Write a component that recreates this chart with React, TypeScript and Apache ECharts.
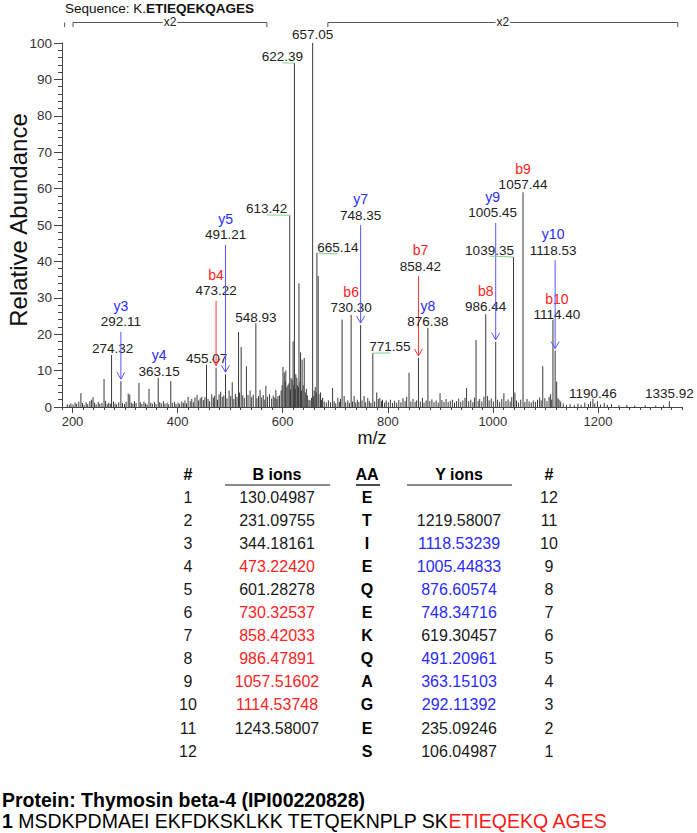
import React, { useEffect, useRef } from 'react';
import * as echarts from 'echarts';

const FONT = '"Liberation Sans", Arial, Helvetica, sans-serif';
const RED = '#ff2222';
const BLUE = '#2a2aff';

// ---------------- spectrum data ----------------
const majorPeaks: [number, number][] = [
  [216, 3.8], [239, 2.7], [260, 7.7], [274.32, 14.3], [292.11, 7.1], [306, 3.7], [309, 3.4],
  [326.5, 6.6], [345.6, 5.0], [363.15, 8.0], [387, 7.1], [420, 2.8], [437, 3.3], [446, 2.8],
  [455.07, 11.6], [465, 3.5], [473.22, 10.8], [482, 4.2], [491.21, 9.0], [498, 4.5], [504, 6.8],
  [516, 20.6], [521, 16.5], [531, 11.2], [538, 4.5], [548.93, 23.0], [557, 4.7], [568, 5.8],
  [575, 3.5], [587, 4.7], [591, 3.0], [600.6, 11.0], [603, 9.5], [606, 10.0], [610, 6.0],
  [613.42, 52.7], [616, 8.0], [619.8, 18.0], [622.39, 94.5], [625, 9.0], [628, 6.0], [631, 34.0],
  [634, 15.0], [637, 13.0], [641, 13.5], [645, 5.0], [650, 2.0], [657.05, 100], [660, 4.5],
  [665.14, 42.3], [667.6, 36.0], [672, 4.0], [676, 2.5], [695, 5.2], [705, 2.5], [713, 24.0],
  [717, 3.0], [730.3, 25.3], [736, 3.0], [748.35, 22.5], [755, 3.0], [762, 2.5], [771.55, 14.8],
  [779, 4.0], [785, 2.5], [790, 2.0], [840.5, 9.4], [858.42, 13.5], [876.38, 21.7], [899.5, 3.8],
  [950, 5.2], [968, 18.4], [986.44, 25.5], [990, 3.0], [1005.45, 17.9], [1021, 3.8],
  [1039.35, 41.2], [1042, 4.0], [1057.44, 59.0], [1095, 11.2], [1114.4, 24.0], [1118.53, 15.5],
  [1121.5, 7.0], [1126, 2.0], [1190.46, 2.3], [1335.92, 1.6],
];

const noisePeaks: [number, number][] = [
  [190, 0.8], [194, 0.6], [197, 1.0], [201, 0.7], [205, 1.2], [208, 0.9], [212, 1.5], [219, 1.1],
  [222, 0.6], [226, 1.3], [229, 0.8], [233, 1.6], [236, 2.0], [242, 1.2], [245, 0.7], [249, 1.4],
  [252, 0.9], [256, 1.1], [263, 1.7], [266, 0.8], [269, 1.2], [272, 0.9], [278, 1.5], [281, 1.0],
  [284, 0.7], [288, 1.3], [295, 1.1], [299, 0.8], [302, 1.4], [312, 1.2], [315, 0.9], [318, 1.6],
  [321, 1.1], [329, 1.3], [332, 0.8], [336, 1.5], [339, 1.0], [342, 0.7], [349, 1.2], [352, 0.9],
  [356, 1.4], [359, 0.8], [366, 1.3], [369, 1.0], [373, 1.6], [376, 0.9], [380, 1.2], [383, 0.7],
  [390, 1.1], [394, 1.4], [397, 0.8], [401, 1.2], [404, 0.9], [408, 1.5], [411, 1.1], [414, 1.8],
  [417, 1.0], [424, 1.6], [427, 2.2], [430, 1.3], [433, 2.6], [440, 1.8], [443, 2.4], [449, 1.9],
  [452, 2.7], [458, 2.2], [461, 1.6], [468, 2.5], [470, 3.1], [476, 2.0], [479, 3.5], [485, 2.8],
  [488, 3.2], [494, 2.4], [501, 3.0], [507, 2.2], [510, 3.6], [513, 2.8], [518, 4.0], [524, 3.2],
  [527, 2.5], [534, 3.3], [541, 2.7], [544, 3.4], [551, 2.4], [554, 3.0], [560, 2.6], [563, 3.3],
  [566, 2.0], [571, 2.8], [579, 2.3], [582, 3.1], [585, 2.6], [589, 2.2], [594, 3.2], [597, 4.5],
  [599, 6.0], [605, 7.0], [608, 5.5], [612, 6.5], [615, 4.8], [618, 7.5], [621, 6.0], [624, 5.0],
  [627, 8.0], [630, 5.5], [633, 7.0], [636, 4.5], [639, 6.0], [643, 4.0], [647, 3.2], [652, 1.8],
  [655, 2.5], [659, 3.0], [662, 5.5], [664, 4.0], [669, 3.5], [674, 2.0], [679, 1.5], [683, 1.2],
  [687, 1.8], [691, 1.3], [698, 1.6], [701, 1.0], [708, 1.4], [710, 2.2], [720, 1.3], [724, 1.8],
  [727, 1.1], [733, 1.5], [739, 1.2], [742, 2.0], [745, 1.4], [751, 1.8], [758, 1.3], [765, 1.6],
  [768, 1.1], [775, 1.5], [782, 2.2], [788, 1.6], [794, 1.2], [797, 1.8], [801, 1.3], [805, 2.0],
  [809, 1.1], [813, 1.7], [817, 1.2], [821, 1.9], [825, 1.3], [829, 2.4], [833, 1.6], [836, 2.8],
  [844, 1.5], [848, 2.2], [852, 1.4], [855, 1.8], [862, 1.5], [866, 2.5], [869, 1.2], [873, 1.8],
  [880, 1.6], [884, 2.1], [888, 1.3], [892, 1.8], [896, 1.2], [903, 1.9], [907, 1.4], [911, 2.2],
  [915, 1.3], [919, 1.7], [923, 2.0], [927, 1.2], [931, 1.6], [935, 2.3], [939, 1.4], [943, 1.8],
  [947, 2.5], [954, 1.6], [958, 2.0], [962, 1.3], [965, 2.6], [972, 1.7], [975, 2.2], [979, 1.5],
  [983, 2.8], [993, 1.8], [997, 2.3], [1001, 1.5], [1009, 2.0], [1013, 1.4], [1017, 2.2],
  [1025, 1.6], [1029, 2.1], [1033, 1.5], [1036, 2.7], [1045, 1.8], [1049, 1.2], [1053, 2.0],
  [1061, 1.4], [1065, 2.2], [1069, 1.5], [1073, 1.2], [1077, 1.8], [1081, 1.4], [1085, 2.0],
  [1089, 2.6], [1092, 1.8], [1099, 2.4], [1103, 1.6], [1107, 2.8], [1110, 3.5], [1112, 2.0],
  [1124, 2.4], [1129, 1.5], [1134, 1.0], [1140, 0.6], [1147, 0.8], [1155, 0.5], [1162, 0.9],
  [1168, 0.6], [1175, 1.2], [1182, 0.8], [1186, 1.5], [1194, 1.0], [1199, 1.6], [1205, 0.7],
  [1212, 1.1], [1218, 0.6], [1226, 0.8], [1240, 0.5], [1255, 0.6], [1270, 0.4], [1290, 0.5],
  [1310, 0.4], [1325, 0.5],
];

const annotatedMz = [
  274.32, 292.11, 363.15, 455.07, 473.22, 491.21, 548.93, 613.42, 622.39, 657.05, 665.14, 730.3,
  748.35, 771.55, 858.42, 876.38, 986.44, 1005.45, 1039.35, 1057.44, 1114.4, 1118.53, 1190.46, 1335.92,
];
const annotatedIon = [
  '', 'y3', 'y4', '', 'b4', 'y5', '', '', '', '', '', 'b6',
  'y7', '', 'b7', 'y8', 'b8', 'y9', '', 'b9', 'b10', 'y10', '', '',
];

const xTickLabels = [200, 400, 600, 800, 1000, 1200];
const zoomRanges: [number, number][] = [[201, 570], [686, 1352]];
const zoomMarks = [185];
const zoomFactor = ['x2', 'x2'];

// ---------------- table data ----------------
const rowIndex = [1, 2, 3, 4, 5, 6, 7, 8, 9, 10, 11, 12];
const bIons = ['130.04987', '231.09755', '344.18161', '473.22420', '601.28278', '730.32537',
  '858.42033', '986.47891', '1057.51602', '1114.53748', '1243.58007', ''];
const aminoAcids = ['E', 'T', 'I', 'E', 'Q', 'E', 'K', 'Q', 'A', 'G', 'E', 'S'];
const yIons = ['', '1219.58007', '1118.53239', '1005.44833', '876.60574', '748.34716',
  '619.30457', '491.20961', '363.15103', '292.11392', '235.09246', '106.04987'];
const bMatched = [false, false, false, true, false, true, true, true, true, true, false, false];
const yMatched = [false, false, true, true, true, true, false, true, true, true, false, false];
const yIndex = [12, 11, 10, 9, 8, 7, 6, 5, 4, 3, 2, 1];

const sequenceTitle = ['Sequence: K.', 'ETIEQEKQAGES'];
const proteinTitle = 'Protein: Thymosin beta-4 (IPI00220828)';
const proteinLine = ['1', 'MSDKPDMAEI EKFDKSKLKK TETQEKNPLP SK', 'ETIEQEKQ AGES'];

// ---------------- layout (positions, not data) ----------------
// labelV: label height in axis units, dx: pixel shift of label, kind of connector
const annotLayout: { v: number; dx: number; kind: 'none' | 'arrow' | 'leader' }[] = [
  { v: 16.2, dx: 1, kind: 'none' },
  { v: 23.4, dx: 0, kind: 'arrow' },
  { v: 9.8, dx: 1, kind: 'none' },
  { v: 13.2, dx: 0, kind: 'none' },
  { v: 31.9, dx: 0, kind: 'arrow' },
  { v: 47.3, dx: 0, kind: 'arrow' },
  { v: 24.7, dx: 0, kind: 'none' },
  { v: 54.4, dx: -23, kind: 'leader' },
  { v: 96.2, dx: -12, kind: 'leader' },
  { v: 102.2, dx: 0, kind: 'none' },
  { v: 43.7, dx: 21, kind: 'leader' },
  { v: 27.2, dx: 0, kind: 'none' },
  { v: 52.7, dx: 0, kind: 'arrow' },
  { v: 16.5, dx: 17, kind: 'leader' },
  { v: 38.7, dx: 2, kind: 'arrow' },
  { v: 23.4, dx: 0, kind: 'none' },
  { v: 27.5, dx: 0, kind: 'none' },
  { v: 53.3, dx: -3, kind: 'arrow' },
  { v: 43.1, dx: -24, kind: 'leader' },
  { v: 61.0, dx: 0, kind: 'none' },
  { v: 25.3, dx: 4, kind: 'none' },
  { v: 43.1, dx: -2, kind: 'arrow' },
  { v: 3.8, dx: 0, kind: 'none' },
  { v: 3.8, dx: 0, kind: 'none' },
];

export default function App() {
  const ref = useRef<HTMLDivElement>(null);

  useEffect(() => {
    if (!ref.current) return;
    const chart = echarts.init(ref.current, null, { renderer: 'svg' });

    const allPeaks = [...noisePeaks, ...majorPeaks];
    const intensityOf = (mz: number) => {
      const p = majorPeaks.find((q) => Math.abs(q[0] - mz) < 0.01);
      return p ? p[1] : 0;
    };
    const annData = annotatedMz.map((mz, i) => [mz, intensityOf(mz), i]);
    const bracketData = [
      ...zoomRanges.map((r, i) => [r[0], r[1], 0, i]),
      ...zoomMarks.map((m) => [m, m, 0, -1]),
    ];

    const textStyle = (extra: any) => ({ fontFamily: FONT, fill: '#1a1a1a', ...extra });

    // table
    const colNum = 188, colB = 277, colAA = 367, colY = 459, colNum2 = 549;
    const headY = 474, row0 = 497.7, pitch = 23.03;
    const tbl: any[] = [];
    const hdr = [['#', colNum], ['B ions', colB], ['AA', colAA], ['Y ions', colY], ['#', colNum2]];
    hdr.forEach(([t, x]) =>
      tbl.push({ type: 'text', x, y: headY, style: textStyle({ text: t, fontSize: 16, fontWeight: 'bold', align: 'center', verticalAlign: 'middle', fill: '#000' }) })
    );
    tbl.push({ type: 'line', shape: { x1: 225, y1: 485, x2: 330, y2: 485 }, style: { stroke: '#8a8a8a', lineWidth: 2 } });
    tbl.push({ type: 'line', shape: { x1: 356, y1: 485, x2: 380, y2: 485 }, style: { stroke: '#111', lineWidth: 1.5 } });
    tbl.push({ type: 'line', shape: { x1: 407, y1: 485, x2: 512, y2: 485 }, style: { stroke: '#8a8a8a', lineWidth: 2 } });
    rowIndex.forEach((n, i) => {
      const y = row0 + i * pitch;
      tbl.push({ type: 'text', x: colNum, y, style: textStyle({ text: String(n), fontSize: 16, align: 'center', verticalAlign: 'middle' }) });
      tbl.push({ type: 'text', x: colB, y, style: textStyle({ text: bIons[i], fontSize: 16, align: 'center', verticalAlign: 'middle', fill: bMatched[i] ? RED : '#1a1a1a' }) });
      tbl.push({ type: 'text', x: colAA, y, style: textStyle({ text: aminoAcids[i], fontSize: 16, fontWeight: 'bold', align: 'center', verticalAlign: 'middle', fill: '#000' }) });
      tbl.push({ type: 'text', x: colY, y, style: textStyle({ text: yIons[i], fontSize: 16, align: 'center', verticalAlign: 'middle', fill: yMatched[i] ? BLUE : '#1a1a1a' }) });
      tbl.push({ type: 'text', x: colNum2, y, style: textStyle({ text: String(yIndex[i]), fontSize: 16, align: 'center', verticalAlign: 'middle' }) });
    });

    const option: any = {
      animation: false,
      backgroundColor: '#ffffff',
      grid: { left: 62, top: 43, width: 620, height: 364, containLabel: false },
      xAxis: [
        {
          type: 'value', min: 180, max: 1360, interval: 20,
          axisLine: { show: true, lineStyle: { color: '#444', width: 1 } },
          axisTick: { show: true, length: 3, lineStyle: { color: '#444' } },
          axisLabel: {
            fontSize: 13, color: '#333', fontFamily: FONT, margin: 8,
            formatter: (v: number) => (xTickLabels.includes(v) ? String(v) : ''),
          },
          splitLine: { show: false },
        },
        {
          type: 'value', min: 180, max: 1360, gridIndex: 0, position: 'bottom',
          axisLine: { show: false },
          axisTick: { show: true, length: 6, customValues: xTickLabels, lineStyle: { color: '#444' } },
          axisLabel: { show: false },
          splitLine: { show: false },
        },
      ],
      yAxis: {
        type: 'value', min: 0, max: 100, interval: 10,
        axisLine: { show: true, lineStyle: { color: '#444', width: 1 } },
        axisTick: { show: true, length: 8, lineStyle: { color: '#444' } },
        minorTick: { show: true, splitNumber: 5, length: 4, lineStyle: { color: '#444' } },
        axisLabel: { fontSize: 13.5, color: '#333', fontFamily: FONT, margin: 10 },
        splitLine: { show: false },
      },
      series: [
        {
          type: 'custom', name: 'peaks', silent: true,
          encode: { x: 0, y: 1 },
          data: allPeaks,
          renderItem: (_p: any, api: any) => {
            const x = api.value(0), v = api.value(1);
            const a = api.coord([x, 0]);
            const b = api.coord([x, v]);
            return { type: 'line', shape: { x1: a[0], y1: a[1], x2: b[0], y2: b[1] }, style: { stroke: '#3a3a3a', lineWidth: 1 } };
          },
        },
        {
          type: 'custom', name: 'annotations', silent: true,
          encode: { x: 0, y: 1 },
          data: annData,
          z: 5,
          renderItem: (_p: any, api: any) => {
            const mz = api.value(0), inten = api.value(1), i = api.value(2);
            const L = annotLayout[i];
            const top = api.coord([mz, inten]);
            const lab = api.coord([mz, L.v]);
            const tx = lab[0] + L.dx, ty = lab[1];
            const ion = annotatedIon[i];
            const col = ion.startsWith('b') ? RED : BLUE;
            const arrowCol = ion.startsWith('b') ? '#ff3333' : '#5555ff';
            const children: any[] = [
              { type: 'text', x: tx, y: ty, style: textStyle({ text: mz.toFixed(2), fontSize: 13.5, align: 'center', verticalAlign: 'middle', fill: '#222' }) },
            ];
            if (ion) {
              children.push({ type: 'text', x: tx, y: ty - 16, style: textStyle({ text: ion, fontSize: 14, align: 'center', verticalAlign: 'middle', fill: col }) });
            }
            if (L.kind === 'arrow') {
              const ax = top[0], y1 = ty + 10, y2 = top[1] - 2;
              children.push({ type: 'line', shape: { x1: ax, y1, x2: ax, y2 }, style: { stroke: arrowCol, lineWidth: 1 } });
              children.push({ type: 'polyline', shape: { points: [[ax - 4, y2 - 7], [ax, y2], [ax + 4, y2 - 7]] }, style: { stroke: arrowCol, lineWidth: 1, fill: 'none' } });
            } else if (L.kind === 'leader') {
              children.push({ type: 'line', shape: { x1: tx, y1: ty + 6, x2: top[0], y2: top[1] }, style: { stroke: '#86d086', lineWidth: 1 } });
            }
            return { type: 'group', children };
          },
        },
        {
          type: 'custom', name: 'zoom brackets', silent: true,
          encode: { x: [0, 1], y: 2 },
          data: bracketData,
          renderItem: (_p: any, api: any) => {
            const x1 = api.coord([api.value(0), 0])[0];
            const x2 = api.coord([api.value(1), 0])[0];
            const k = api.value(3);
            const y = 22.5;
            const stroke = { stroke: '#555', lineWidth: 1 };
            if (k < 0) {
              return { type: 'line', shape: { x1, y1: y, x2: x1, y2: y + 4.5 }, style: stroke };
            }
            const mid = (x1 + x2) / 2;
            return {
              type: 'group',
              children: [
                { type: 'line', shape: { x1, y1: y, x2, y2: y }, style: stroke },
                { type: 'line', shape: { x1, y1: y, x2: x1, y2: y + 4.5 }, style: stroke },
                { type: 'line', shape: { x1: x2, y1: y, x2, y2: y + 4.5 }, style: stroke },
                { type: 'text', x: mid, y: y - 0.5, style: textStyle({ text: zoomFactor[k], fontSize: 12, align: 'center', verticalAlign: 'middle', fill: '#222', backgroundColor: '#fff', padding: [0, 1] }) },
              ],
            };
          },
        },
      ],
      graphic: [
        {
          type: 'text', x: 65, y: 8,
          style: {
            text: `{n|${sequenceTitle[0]}}{b|${sequenceTitle[1]}}`,
            verticalAlign: 'middle',
            rich: {
              n: { fontFamily: FONT, fontSize: 13.5, fill: '#111' },
              b: { fontFamily: FONT, fontSize: 13.5, fontWeight: 'bold', fill: '#111' },
            },
          },
        },
        {
          type: 'text', x: 18, y: 220, rotation: Math.PI / 2,
          style: textStyle({ text: 'Relative Abundance', fontSize: 24, align: 'center', verticalAlign: 'middle', fill: '#111' }),
        },
        {
          type: 'text', x: 372, y: 438,
          style: textStyle({ text: 'm/z', fontSize: 18, align: 'center', verticalAlign: 'middle', fill: '#111' }),
        },
        ...tbl,
        {
          type: 'text', x: 2, y: 800,
          style: textStyle({ text: proteinTitle, fontSize: 19.5, fontWeight: 'bold', verticalAlign: 'middle', fill: '#000' }),
        },
        {
          type: 'text', x: 2, y: 821,
          style: {
            text: `{b|${proteinLine[0]}} {n|${proteinLine[1]}}{r|${proteinLine[2]}}`,
            verticalAlign: 'middle',
            fontFamily: FONT, fontSize: 19.5,
            rich: {
              b: { fontFamily: FONT, fontSize: 19.5, fontWeight: 'bold', fill: '#000' },
              n: { fontFamily: FONT, fontSize: 19.5, fill: '#000' },
              r: { fontFamily: FONT, fontSize: 19.5, fill: '#ff1a1a' },
            },
          },
        },
      ],
    };

    chart.setOption(option);
    return () => chart.dispose();
  }, []);

  return (
    <div
      ref={ref}
      style={{ position: 'absolute', left: 0, top: 0, width: 697, height: 833, background: '#fff' }}
    />
  );
}
